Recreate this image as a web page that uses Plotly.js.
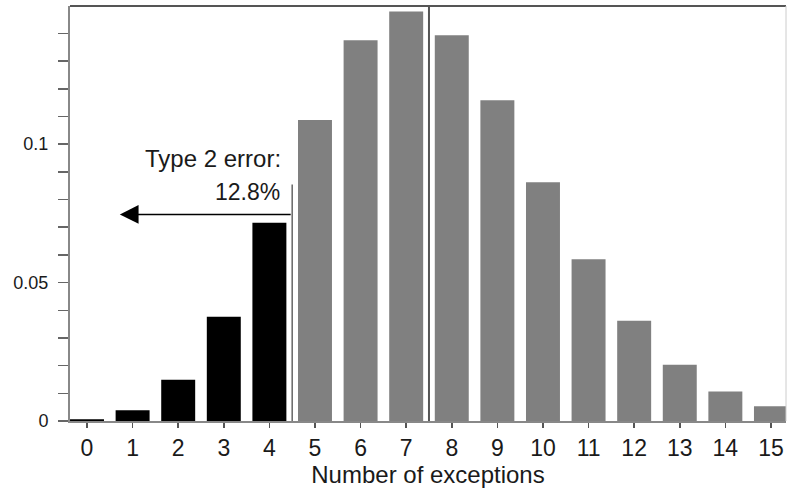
<!DOCTYPE html>
<html>
<head>
<meta charset="utf-8">
<script src="https://cdn.plot.ly/plotly-3.0.1.min.js"></script>
<style>html,body{margin:0;padding:0;background:#fff;}#chart{width:787px;height:490px;}</style>
</head>
<body>
<div id="chart"></div>
<script>
// Data
const exceptions = [0,1,2,3,4,5,6,7,8,9,10,11,12,13,14,15];
const probability = [0.0006,0.0039,0.0149,0.0377,0.0716,0.1087,0.1375,0.1479,0.1393,0.1159,0.0862,0.0584,0.0362,0.0203,0.0107,0.0053];
const cutoff = 4.5;          // type 2 error region boundary
const meanLine = 7.5;        // expected number of exceptions
const cutoffLineTop = 0.0854;
const arrowLevel = 0.0746;
const arrowTip = 0.72;
const errorLabel = "Type 2 error:";
const errorValue = "12.8%";
const yTickVals = [0, 0.05, 0.1];
const yTickText = ["0", "0.05", "0.1"];

const barColors = exceptions.map(k => k < cutoff ? "#000000" : "#808080");

const trace = {
  type: "bar",
  x: exceptions,
  y: probability,
  width: 0.745,
  marker: {color: barColors, line: {width: 0}},
  hoverinfo: "x+y"
};

const layout = {
  width: 787, height: 490,
  margin: {l: 70, r: 1, t: 6, b: 69},
  paper_bgcolor: "#fff", plot_bgcolor: "#fff",
  showlegend: false,
  font: {family: "Liberation Sans, Arial, sans-serif", color: "#1a1a1a"},
  xaxis: {
    range: [-0.373, 15.33],
    tickvals: exceptions,
    ticktext: exceptions.map(String),
    ticks: "outside", ticklen: 5, tickwidth: 1.5, tickcolor: "#555",
    tickfont: {size: 23, color: "#1a1a1a"},
    showgrid: false, zeroline: false,
    showline: true, linecolor: "#888", linewidth: 2,
    title: {text: "Number of exceptions", font: {size: 24, color: "#1a1a1a"}, standoff: 5}
  },
  yaxis: {
    range: [0, 0.1499],
    tickvals: yTickVals,
    ticktext: yTickText,
    ticks: "outside", ticklen: 10, tickwidth: 1.5, tickcolor: "#666",
    ticklabelstandoff: 6,
    tickfont: {size: 18, color: "#1a1a1a"},
    minor: {dtick: 0.01, ticks: "outside", ticklen: 10, tickwidth: 1.5, tickcolor: "#666", showgrid: false},
    showgrid: false, zeroline: false,
    showline: true, linecolor: "#888", linewidth: 2
  },
  shapes: [
    {type: "line", xref: "paper", yref: "paper", x0: 0, x1: 1, y0: 1, y1: 1, line: {color: "#555", width: 2}},
    {type: "line", xref: "paper", yref: "paper", x0: 1, x1: 1, y0: 0, y1: 1, line: {color: "#ccc", width: 1}},
    {type: "line", xref: "x", yref: "y", x0: cutoff, x1: cutoff, y0: 0, y1: cutoffLineTop, line: {color: "#666", width: 1.5}},
    {type: "line", xref: "x", yref: "paper", x0: meanLine, x1: meanLine, y0: 0, y1: 1, line: {color: "#555", width: 2}}
  ],
  annotations: [
    {xref: "x", yref: "y", x: arrowTip, y: arrowLevel, ax: cutoff, ay: arrowLevel, axref: "x", ayref: "y",
     text: "", showarrow: true, arrowhead: 2, arrowsize: 2.5, arrowwidth: 1.5, arrowcolor: "#000", standoff: 0, startstandoff: 0},
    {xref: "x", yref: "y", x: 4.30, y: 0.0893, xanchor: "right", yanchor: "bottom", text: errorLabel, showarrow: false,
     font: {size: 24, color: "#1a1a1a"}},
    {xref: "x", yref: "y", x: 4.28, y: 0.0773, xanchor: "right", yanchor: "bottom", text: errorValue, showarrow: false,
     font: {size: 23, color: "#1a1a1a"}}
  ]
};

Plotly.newPlot("chart", [trace], layout, {displayModeBar: false, staticPlot: true});
</script>
</body>
</html>
